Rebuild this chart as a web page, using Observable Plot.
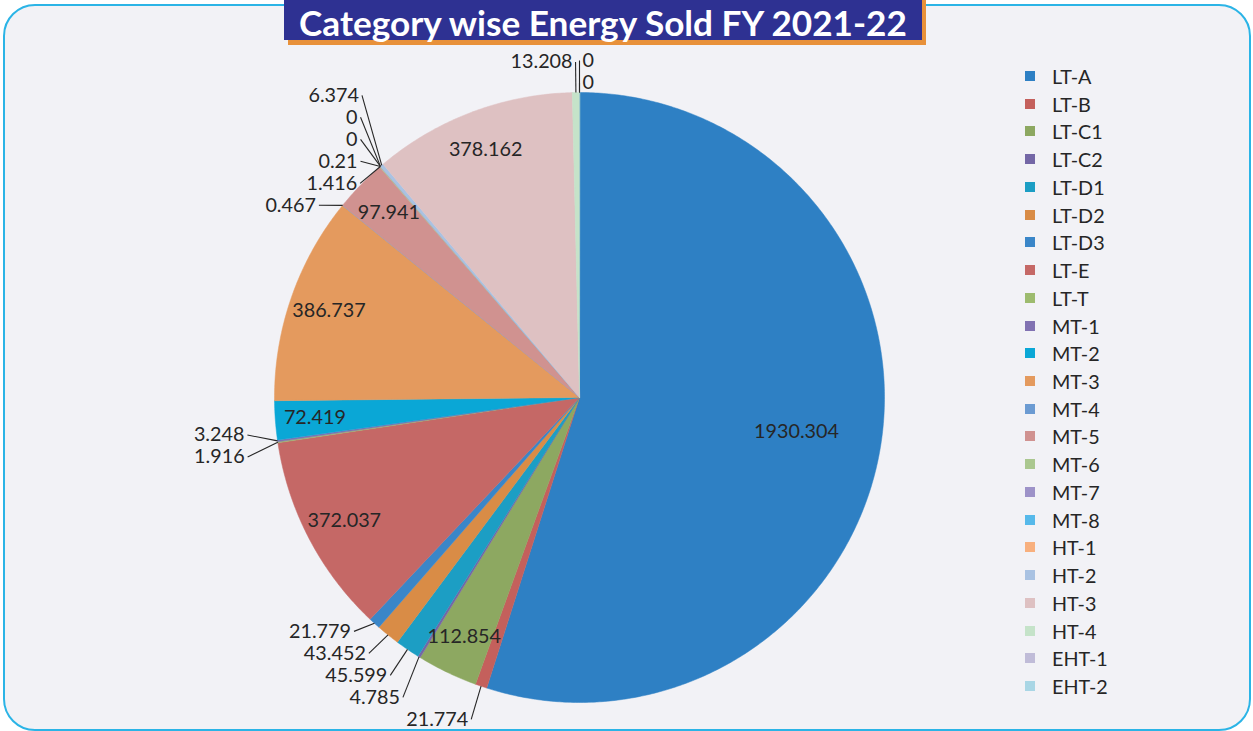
<!DOCTYPE html>
<html><head><meta charset="utf-8">
<script src="https://cdn.jsdelivr.net/npm/d3@7"></script>
<script src="https://cdn.jsdelivr.net/npm/@observablehq/plot@0.6"></script>
<style>
body{margin:0;background:#fff;font-family:Lato,sans-serif;}
#wrap{position:relative;width:1253px;height:731px;overflow:hidden;background:#fff;}
#frame{position:absolute;left:3px;top:4px;width:1248px;height:727px;box-sizing:border-box;border:2.5px solid #2BB4E6;border-radius:32px;background:#F2F2F6;}
#chart{position:absolute;left:0;top:0;}
#title{position:absolute;left:284px;top:-6px;width:638px;height:46px;background:#2E3192;box-shadow:4px 5px 0 #E8913A;color:#fff;font-weight:700;white-space:nowrap;}
#title span{position:absolute;left:0;right:0;text-align:center;line-height:0.75;}
#legend{position:absolute;left:1025px;top:0;color:#262626;}
.row{position:absolute;left:0;height:24px;display:flex;align-items:center;white-space:nowrap;}
.sw{width:10px;height:10px;margin-right:17px;flex:none;}
</style></head><body>
<div id="wrap"><div id="frame"></div><div id="chart"></div><div id="title"><span id="ttext"></span></div><div id="legend"></div></div>
<script>
// ---- data ----
const titleText = "Category wise Energy Sold FY 2021-22";
const categories = ["LT-A","LT-B","LT-C1","LT-C2","LT-D1","LT-D2","LT-D3","LT-E","LT-T","MT-1","MT-2","MT-3","MT-4","MT-5","MT-6","MT-7","MT-8","HT-1","HT-2","HT-3","HT-4","EHT-1","EHT-2"];
const values = [1930.304,21.774,112.854,4.785,45.599,43.452,21.779,372.037,1.916,3.248,72.419,386.737,0.467,97.941,1.416,0.21,0,0,6.374,378.162,13.208,0,0];
const colors = ["#2E80C4","#C4605C","#8DA861","#7467A6","#1C9EC4","#D98C46","#3A86C8","#C56866","#9DBB6E","#8172B2","#0AA7D6","#E49A5E","#6C9BD2","#D09290","#AAC78F","#9D92C8","#56B9EA","#F8B07E","#A9C2E2","#DEC1C2","#C5E3C9","#C0BCD8","#A9D6E5"];

// ---- layout ----
const W = 1253, H = 731, CX = 579, CY = 397, R = 305;
const cv = document.createElement("canvas").getContext("2d");
function fitSize(text, weight, target) { cv.font = `${weight} 40px Lato`; return 40 * target / cv.measureText(text).width; }
const fs = Math.max(16, Math.min(24, fitSize("1930.304", 400, 85)));
const tfs = Math.max(24, Math.min(36, fitSize(titleText, 700, 612)));

const total = d3.sum(values);
let acc = 0;
const slices = categories.map((name, i) => {
  const v = values[i];
  const a0 = acc / total * 2 * Math.PI; acc += v;
  const a1 = acc / total * 2 * Math.PI;
  return {name, value: v, a0, a1, mid: (a0 + a1) / 2, frac: v / total, i};
});

// slice polygons (unit circle, y up)
const polys = [];
for (const s of slices) {
  if (s.value <= 0) continue;
  polys.push({name: s.name, x: 0, y: 0});
  const n = Math.max(2, Math.ceil((s.a1 - s.a0) / (Math.PI / 360)));
  for (let k = 0; k <= n; k++) {
    const a = s.a0 + (s.a1 - s.a0) * k / n;
    polys.push({name: s.name, x: Math.sin(a), y: Math.cos(a)});
  }
}

// labels
const inside = [], left = [], right = [];
for (const s of slices) {
  const lab = String(s.value);
  if (s.frac >= 0.02) {
    const k = s.frac > 0.25 ? 0.72 : 0.87;
    inside.push({label: lab, x: k * Math.sin(s.mid), y: k * Math.cos(s.mid)});
  } else {
    const sn = Math.sin(s.mid);
    const o = {label: lab, mid: s.mid, i: s.i,
      ex: Math.sin(s.mid), ey: Math.cos(s.mid),
      lxp: CX + 1.1 * R * sn, lyp: CY - 1.1 * R * Math.cos(s.mid)};
    (sn > -1e-9 ? right : left).push(o);
  }
}
const gap = 22, minY = 60;
function relax(items, isLeft) {
  items.sort((a, b) => (a.lyp - b.lyp) || (isLeft ? (b.mid - a.mid) || (b.i - a.i) : (a.mid - b.mid) || (a.i - b.i)));
  for (let it = 0; it < 500; it++) {
    let moved = false;
    for (let j = 1; j < items.length; j++) {
      const d = items[j].lyp - items[j - 1].lyp;
      if (d < gap - 1e-6) { const m = (gap - d) / 2; items[j].lyp += m; items[j - 1].lyp -= m; moved = true; }
    }
    if (!moved) break;
  }
  // keep labels clear of the title band
  items.forEach((o, j) => { o.lyp = Math.max(o.lyp, j ? items[j - 1].lyp + gap : minY); });
  for (const o of items) { o.lx = (o.lxp - CX) / R; o.ly = (CY - o.lyp) / R; }
}
relax(left, true); relax(right, false);
const outside = left.concat(right);
const pad = 3 / R;

const chart = Plot.plot({
  width: W, height: H, margin: 0,
  style: {background: "transparent", overflow: "visible"},
  x: {domain: [-CX / R, (W - CX) / R], range: [0, W], axis: null},
  y: {domain: [-(H - CY) / R, CY / R], range: [H, 0], axis: null},
  color: {type: "ordinal", domain: categories, range: colors},
  marks: [
    Plot.line(polys, {x: "x", y: "y", z: "name", fill: "name", stroke: "name", strokeWidth: 0.5, curve: "linear-closed"}),
    Plot.link(outside, {x1: "ex", y1: "ey", x2: "lx", y2: "ly", stroke: "#262626", strokeWidth: 1.1}),
    Plot.text(inside, {x: "x", y: "y", text: "label", fill: "#262626", fontSize: fs, fontFamily: "Lato", textAnchor: "middle"}),
    Plot.text(left, {x: d => d.lx - pad, y: "ly", text: "label", fill: "#262626", fontSize: fs, fontFamily: "Lato", textAnchor: "end"}),
    Plot.text(right, {x: d => d.lx + pad, y: "ly", text: "label", fill: "#262626", fontSize: fs, fontFamily: "Lato", textAnchor: "start"})
  ]
});
document.getElementById("chart").appendChild(chart);

// title: baseline placed so the font's full ascent stays inside the window
const tt = document.getElementById("ttext");
tt.textContent = titleText;
tt.style.fontSize = tfs + "px";
const baseline = Math.ceil(0.99 * tfs) + 1;
tt.style.top = (6 + baseline - 0.762 * tfs) + "px";

// legend
const color = chart.scale("color");
const leg = document.getElementById("legend");
const rowStep = (686 - 76) / (categories.length - 1);
categories.forEach((c, i) => {
  const row = document.createElement("div");
  row.className = "row";
  row.style.top = (76 + i * rowStep - 12) + "px";
  row.style.fontSize = fs + "px";
  const sw = document.createElement("span");
  sw.className = "sw";
  sw.style.background = color.range[i];
  const tx = document.createElement("span");
  tx.textContent = c;
  row.appendChild(sw); row.appendChild(tx);
  leg.appendChild(row);
});
</script>
</body></html>
